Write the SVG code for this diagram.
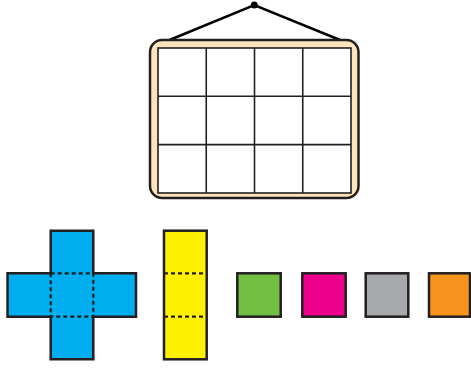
<svg xmlns="http://www.w3.org/2000/svg" width="471" height="370" viewBox="0 0 471 370">
<style>
.o{stroke:#231f20;stroke-width:2.5;stroke-linejoin:miter}
.g{fill:none;stroke:#231f20;stroke-width:1.6}
.d{fill:none;stroke:#231f20;stroke-width:2.2;stroke-dasharray:4 3}
</style>
<rect width="471" height="370" fill="#fff"/>
<g id="connectors">
<polyline points="169.5,40 254.3,5 340,40" fill="none" stroke="#000" stroke-width="2.5"/>
</g>
<g id="frame">
<rect x="150" y="40" width="208.5" height="158" rx="12" ry="12" fill="#fee4bd" class="o"/>
<rect x="158" y="48" width="193" height="145" style="fill:#fff" class="g"/>
<line x1="206.25" y1="48" x2="206.25" y2="193" class="g"/>
<line x1="254.5" y1="48" x2="254.5" y2="193" class="g"/>
<line x1="302.75" y1="48" x2="302.75" y2="193" class="g"/>
<line x1="158" y1="96.3" x2="351" y2="96.3" class="g"/>
<line x1="158" y1="144.6" x2="351" y2="144.6" class="g"/>
</g>
<g id="nail"><circle cx="254.3" cy="5" r="3.5" fill="#000"/></g>
<g id="cross">
<path d="M50.7,230.7 H93.3 V273.3 H136 V316.7 H93.3 V359.3 H50.7 V316.7 H7.5 V273.3 H50.7 Z" fill="#00aeef" class="o"/>
<path d="M50.7,273.3 H93.3 V316.7 H50.7 Z" class="d"/>
</g>
<g id="strip">
<rect x="164" y="230.7" width="42.7" height="128.6" fill="#fff200" class="o"/>
<line x1="164" y1="273.3" x2="206.7" y2="273.3" class="d"/>
<line x1="164" y1="316.7" x2="206.7" y2="316.7" class="d"/>
</g>
<g id="green"><rect x="237.3" y="273.3" width="43.4" height="43.4" fill="#72bf44" class="o"/></g>
<g id="magenta"><rect x="302.3" y="273.3" width="43.4" height="43.4" fill="#ec008c" class="o"/></g>
<g id="gray"><rect x="365.7" y="273.3" width="42.6" height="43.4" fill="#a7a9ac" class="o"/></g>
<g id="orange"><rect x="429" y="273.3" width="41" height="43.4" fill="#f7941d" class="o"/></g>
</svg>
